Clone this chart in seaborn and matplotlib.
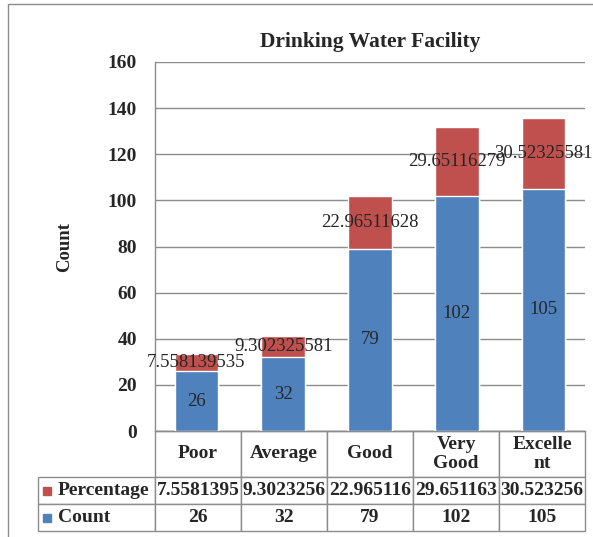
import matplotlib
matplotlib.use("Agg")
import matplotlib.pyplot as plt
import seaborn as sns
import pandas as pd
from matplotlib.patches import Rectangle
from matplotlib.table import Table

# chart data
categories = ["Poor", "Average", "Good", "Very Good", "Excellent"]
col_labels = ["Poor", "Average", "Good", "Very\nGood", "Excelle\nnt"]
row_labels = ["Percentage", "Count"]
count = [26, 32, 79, 102, 105]
percentage = [7.558139535, 9.302325581, 22.96511628, 29.65116279, 30.52325581]
y_ticks = [0, 20, 40, 60, 80, 100, 120, 140, 160]

blue = "#4F81BD"
red = "#C0504D"
grid_col = "#8C8C8C"

sns.set_style("white")
plt.rcParams["font.family"] = ["Liberation Serif", "DejaVu Serif"]

df = pd.DataFrame({"Category": categories, "Count": count, "Percentage": percentage})
df["Total"] = df["Count"] + df["Percentage"]

fig = plt.figure(figsize=(5.93, 5.37), dpi=100)
ax_w, ax_h = 430, 369  # axes size in px
ax = fig.add_axes([155 / 593, 1 - 431 / 537, ax_w / 593, ax_h / 537])

# stacked bars: draw total (red) first, then count (blue) over it
sns.barplot(data=df, x="Category", y="Total", color=red, width=0.5, ax=ax,
            saturation=1, zorder=3)
sns.barplot(data=df, x="Category", y="Count", color=blue, width=0.5, ax=ax,
            saturation=1, zorder=4)

for i, (c, p) in enumerate(zip(count, percentage)):
    ax.text(i, c / 2, str(c), ha="center", va="center", fontsize=13.5, zorder=5)
    ax.text(i, c + p / 2, "{:.10g}".format(p), ha="center", va="center",
            fontsize=13.5, zorder=5)

ax.set_ylim(0, 160)
ax.set_yticks(y_ticks)
ax.set_yticklabels([str(t) for t in y_ticks], fontweight="bold", fontsize=14)
ax.tick_params(axis="y", length=0, pad=13)
ax.set_xticks([])
ax.set_xlabel("")
ax.yaxis.grid(True, color=grid_col, linewidth=1, zorder=0)
ax.set_axisbelow(True)
for s in ["top", "right"]:
    ax.spines[s].set_visible(False)
for s in ["left", "bottom"]:
    ax.spines[s].set_color(grid_col)
    ax.spines[s].set_linewidth(1)

ax.set_ylabel("Count", fontweight="bold", fontsize=13.5)
ax.yaxis.set_label_coords(-0.19, 0.5)
ax.set_title("Drinking Water Facility", fontweight="bold", fontsize=15.5, pad=11)

# data table under the axis, built cell by cell
cell_text = [["{:.8g}".format(p) for p in percentage], [str(c) for c in count]]
lab_w, col_w = 117 / ax_w, 86 / ax_w
head_h, row_h = 46 / ax_h, 27 / ax_h

tbl = Table(ax, loc="bottom")
for j, lab in enumerate(col_labels):
    tbl.add_cell(0, j, col_w, head_h, text=lab, loc="center")
for i, (name, vals) in enumerate(zip(row_labels, cell_text), start=1):
    cell = tbl.add_cell(i, -1, lab_w, row_h, text=name, loc="left")
    cell.PAD = 0.17
    for j, v in enumerate(vals):
        tbl.add_cell(i, j, col_w, row_h, text=v, loc="center")
tbl.auto_set_font_size(False)
tbl.set_fontsize(14)
for cell in tbl.get_celld().values():
    cell.set_edgecolor(grid_col)
    cell.set_linewidth(1)
    cell.get_text().set_fontweight("bold")
ax.add_table(tbl)

# legend keys in the row labels
ax.plot([-0.251], [-0.1626], marker="s", markersize=6, color=red,
        transform=ax.transAxes, clip_on=False)
ax.plot([-0.251], [-0.2358], marker="s", markersize=6, color=blue,
        transform=ax.transAxes, clip_on=False)

# chart area border
fig.patches.append(Rectangle((8 / 593, -0.2), 1.5, 1.2 - 4 / 537, fill=False,
                             edgecolor="#8C8C8C", linewidth=1,
                             transform=fig.transFigure, figure=fig))

fig.savefig("out.png", dpi=100)
